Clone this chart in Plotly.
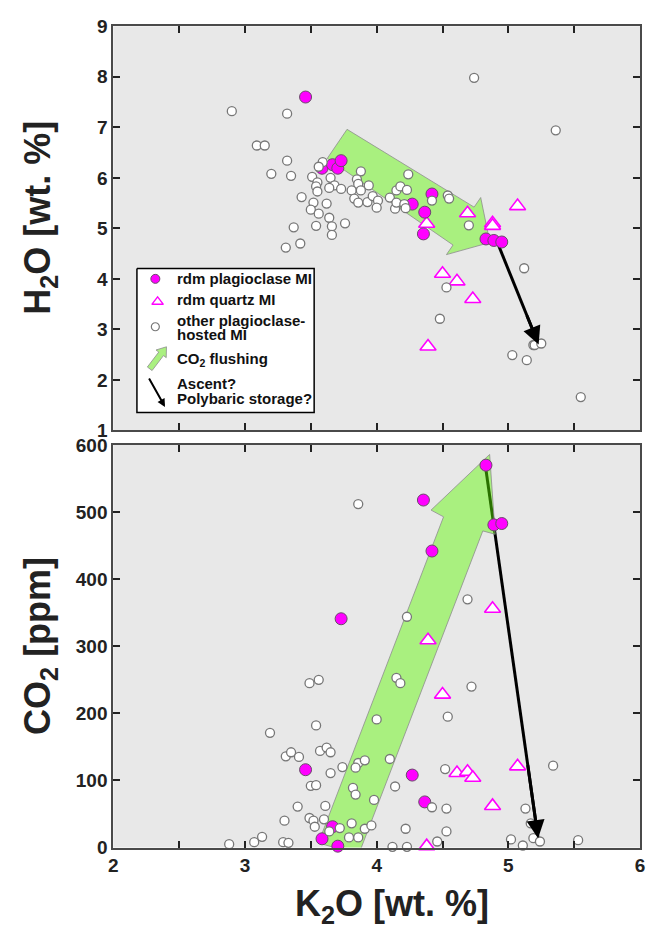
import numpy as np
import plotly.graph_objects as go

W, H = 647, 938
FONT = "Liberation Sans, Arial, Helvetica, sans-serif"

# ---------------- data ----------------
# rdm plagioclase-hosted melt inclusions
plag_k2o = [3.46, 3.585, 3.665, 3.705, 3.73, 4.27, 4.355, 4.365, 4.42, 4.83, 4.89, 4.95]
plag_h2o = [7.60, 6.19, 6.26, 6.19, 6.34, 5.48, 4.89, 5.32, 5.68, 4.79, 4.76, 4.73]
plag_co2 = [116, 13, 31, 2, 341, 108, 518, 68, 442, 570, 481, 483]

# rdm quartz-hosted melt inclusions
qtz_k2o = [4.38, 4.39, 4.50, 4.61, 4.69, 4.73, 4.88, 4.88, 5.07]
qtz_h2o = [5.09, 2.66, 4.10, 3.95, 5.30, 3.60, 5.10, 5.05, 5.44]
qtz_co2 = [2, 309, 228, 111, 113, 104, 356, 62, 121]

# other plagioclase-hosted melt inclusions (H2O data set)
oth_h2o_k2o = [2.90, 3.32, 4.74, 5.36, 3.09, 3.15, 3.32, 3.20, 3.35, 3.59, 3.56, 3.51,
               3.55, 3.54, 3.55, 3.65, 3.68, 3.64, 3.73, 3.43, 3.52, 3.50, 3.62, 3.56,
               3.64, 3.54, 3.37, 3.66, 3.76, 3.66, 3.31, 3.42, 3.88, 3.85, 3.86, 3.94,
               3.81, 3.88, 3.83, 3.86, 3.93, 3.97, 4.01, 4.00, 4.10, 4.14, 4.15, 4.15,
               4.18, 4.23, 4.24, 4.21, 4.22, 4.42, 4.54, 4.55, 4.70, 5.12, 4.53, 4.48,
               5.03, 5.14, 5.19, 5.20, 5.25, 5.55]
oth_h2o = [7.32, 7.27, 7.98, 6.94, 6.64, 6.64, 6.34, 6.08, 6.04, 6.31, 6.22, 6.02,
           5.91, 5.83, 5.73, 6.00, 5.85, 5.80, 5.78, 5.62, 5.51, 5.37, 5.49, 5.29,
           5.21, 5.05, 5.02, 5.04, 5.10, 4.87, 4.62, 4.70, 6.13, 5.97, 5.88, 5.85,
           5.75, 5.75, 5.59, 5.51, 5.52, 5.64, 5.55, 5.41, 5.61, 5.39, 5.51, 5.75,
           5.83, 5.76, 6.07, 5.48, 5.40, 5.55, 5.65, 5.59, 5.06, 4.21, 3.83, 3.21,
           2.49, 2.39, 2.69, 2.69, 2.72, 1.66]

# other plagioclase-hosted melt inclusions (CO2 data set)
oth_co2_k2o = [3.86, 3.49, 3.56, 4.00, 3.54, 3.19, 3.31, 3.35, 3.41, 3.57, 3.62, 3.65,
               3.74, 3.86, 3.91, 3.84, 3.65, 3.50, 3.54, 3.82, 3.84, 3.98, 3.40, 3.61,
               3.30, 3.49, 3.52, 3.53, 3.60, 3.72, 3.64, 3.81, 3.91, 3.96, 3.79, 3.86,
               3.13, 3.07, 2.88, 3.29, 3.33, 4.69, 4.23, 4.15, 4.18, 4.72, 4.54, 5.34,
               4.52, 4.10, 4.14, 4.42, 4.53, 5.13, 5.17, 4.22, 4.53, 4.46, 4.12, 4.23,
               5.02, 5.11, 5.19, 5.24, 5.53]
oth_co2 = [512, 245, 250, 191, 182, 171, 136, 142, 135, 144, 149, 142,
           120, 126, 130, 119, 111, 92, 93, 89, 79, 71, 61, 62,
           40, 44, 40, 31, 42, 29, 24, 36, 28, 33, 15, 15,
           16, 8, 5, 8, 7, 370, 344, 253, 245, 240, 195, 122,
           117, 132, 91, 60, 58, 58, 36, 28, 24, 9, 1, 1,
           12, 3, 14, 9, 11]

# CO2-flushing trend arrows (outline vertices in K2O / H2O and K2O / CO2 space)
flush_h2o_k2o = [3.775, 4.74, 4.79, 4.86, 4.53, 4.58, 3.625]
flush_h2o = [6.96, 5.42, 5.61, 4.72, 4.48, 4.67, 6.385]
flush_co2_k2o = [3.558, 4.508, 4.413, 4.858, 4.90, 4.806, 3.862]
flush_co2 = [7, 493, 503, 586, 467, 472, -11]

# ascent / polybaric storage trends (start, end)
ascent_h2o_k2o = [4.92, 5.23]
ascent_h2o = [4.70, 2.70]
ascent_co2_k2o = [4.825, 5.226]
ascent_co2 = [570, 14]

k2o_ticks = [2, 3, 4, 5, 6]
h2o_ticks = [1, 2, 3, 4, 5, 6, 7, 8, 9]
co2_ticks = [0, 100, 200, 300, 400, 500, 600]

# ---------------- layout geometry (pixels) ----------------
PX_L, PX_R = 110, 645
TOP_T, TOP_B = 16.7, 430
BOT_T, BOT_B = 445, 856.7


def py(v):
    return 1 - v / H


GREEN_FILL = "rgba(94,250,0,0.45)"
GREEN_EDGE = "#8d8d8d"
MAGENTA = "#ff00ff"
AX_COL = "#4a4a4a"

fig = go.Figure()


def panel(xa, ya, yk, yv, fk, fv, ak, av):
    # ascent line (under the translucent flushing arrow)
    fig.add_trace(go.Scatter(x=ak, y=av, mode="lines", xaxis=xa, yaxis=ya,
                             line=dict(color="black", width=3), hoverinfo="skip"))
    # CO2 flushing arrow
    fig.add_trace(go.Scatter(x=list(fk) + fk[:1], y=list(fv) + fv[:1], mode="lines",
                             fill="toself", fillcolor=GREEN_FILL, xaxis=xa, yaxis=ya,
                             line=dict(color=GREEN_EDGE, width=0.8), hoverinfo="skip"))
    # quartz MI
    fig.add_trace(go.Scatter(x=qtz_k2o, y=yk["qtz"], mode="markers", xaxis=xa, yaxis=ya,
                             cliponaxis=False,
                             marker=dict(symbol="triangle-up", size=14, color="white",
                                         line=dict(color=MAGENTA, width=1.6))))
    # plagioclase MI
    fig.add_trace(go.Scatter(x=plag_k2o, y=yk["plag"], mode="markers", xaxis=xa, yaxis=ya,
                             cliponaxis=False,
                             marker=dict(symbol="circle", size=12, color=MAGENTA,
                                         line=dict(color="#6a4a6a", width=1))))
    # other plagioclase-hosted MI
    fig.add_trace(go.Scatter(x=yv[0], y=yv[1], mode="markers", xaxis=xa, yaxis=ya,
                             cliponaxis=False,
                             marker=dict(symbol="circle", size=9, color="white",
                                         line=dict(color="#777777", width=1.3))))


panel("x", "y", {"qtz": qtz_h2o, "plag": plag_h2o}, (oth_h2o_k2o, oth_h2o),
      flush_h2o_k2o, flush_h2o, ascent_h2o_k2o, ascent_h2o)
panel("x2", "y2", {"qtz": qtz_co2, "plag": plag_co2}, (oth_co2_k2o, oth_co2),
      flush_co2_k2o, flush_co2, ascent_co2_k2o, ascent_co2)

annotations = []


def arrow_head(xref, yref, xs, ys, frac=0.3, size=1.2, width=3):
    x0, x1 = xs
    y0, y1 = ys
    annotations.append(dict(
        x=x1, y=y1, ax=x1 - frac * (x1 - x0), ay=y1 - frac * (y1 - y0),
        xref=xref, yref=yref, axref=xref, ayref=yref, text="", showarrow=True,
        arrowhead=2, arrowsize=size, arrowwidth=width, arrowcolor="black"))


arrow_head("x", "y", ascent_h2o_k2o, ascent_h2o)
arrow_head("x2", "y2", ascent_co2_k2o, ascent_co2, frac=0.2)

# ---------------- legend (drawn on a pixel-unit overlay of the top panel) ----------------
box_x = [134, 314, 314, 134, 134]
box_y = [264.3, 264.3, 411.7, 411.7, 264.3]
fig.add_trace(go.Scatter(x=box_x, y=box_y, mode="lines", fill="toself", fillcolor="white",
                         line=dict(color="black", width=1.5), xaxis="x3", yaxis="y3",
                         hoverinfo="skip"))
fig.add_trace(go.Scatter(x=[152.7], y=[275], mode="markers", xaxis="x3", yaxis="y3",
                         marker=dict(symbol="circle", size=9, color=MAGENTA,
                                     line=dict(color="#6a4a6a", width=1))))
fig.add_trace(go.Scatter(x=[155], y=[298.5], mode="markers", xaxis="x3", yaxis="y3",
                         marker=dict(symbol="triangle-up", size=10, color="white",
                                     line=dict(color=MAGENTA, width=1.4))))
fig.add_trace(go.Scatter(x=[152.7], y=[324], mode="markers", xaxis="x3", yaxis="y3",
                         marker=dict(symbol="circle", size=8, color="white",
                                     line=dict(color="#777777", width=1.2))))

# small block-arrow glyph for the flushing trend
tail = np.array([147.0, 367.0])
tip = np.array([164.0, 344.5])
d = tip - tail
L = np.hypot(*d)
u = d / L
n = np.array([-u[1], u[0]])
local = [(0, -3), (L - 9, -3), (L - 9, -6.5), (L, 0), (L - 9, 6.5), (L - 9, 3), (0, 3), (0, -3)]
pts = np.array([tail + a * u + b * n for a, b in local])
fig.add_trace(go.Scatter(x=pts[:, 0], y=pts[:, 1], mode="lines", fill="toself",
                         fillcolor="#aaf080", line=dict(color=GREEN_EDGE, width=0.8),
                         xaxis="x3", yaxis="y3", hoverinfo="skip"))
annotations.append(dict(x=162.5, y=406, ax=145.5, ay=375.5, xref="x3", yref="y3",
                        axref="x3", ayref="y3", text="", showarrow=True, arrowhead=2,
                        arrowsize=0.8, arrowwidth=2, arrowcolor="black"))

legend_rows = [
    ("rdm plagioclase MI", 274.5),
    ("rdm quartz MI", 296.5),
    ("other plagioclase-", 318),
    ("hosted MI", 331.5),
    ("CO<sub>2</sub> flushing", 358),
    ("Ascent?", 382),
    ("Polybaric storage?", 397),
]
for txt, yy in legend_rows:
    annotations.append(dict(x=173, y=yy, xref="x3", yref="y3", text=txt, showarrow=False,
                            xanchor="left", yanchor="middle",
                            font=dict(family=FONT, size=15, color="#111", weight="bold")))

# ---------------- axis titles ----------------
title_font = dict(family=FONT, size=36, color="#222", weight="bold")
annotations.append(dict(x=36 / W, y=py(212), xref="paper", yref="paper", textangle=-90,
                        text="H<sub>2</sub>O [wt. %]", showarrow=False,
                        xanchor="center", yanchor="middle", font=title_font))
annotations.append(dict(x=36 / W, y=py(650), xref="paper", yref="paper", textangle=-90,
                        text="CO<sub>2</sub> [ppm]", showarrow=False,
                        xanchor="center", yanchor="middle", font=title_font))
annotations.append(dict(x=393 / W, y=py(917), xref="paper", yref="paper",
                        text="K<sub>2</sub>O [wt. %]", showarrow=False,
                        xanchor="center", yanchor="middle", font=title_font))

tick_font = dict(family=FONT, size=19, color="#222", weight="bold")
common_axis = dict(showline=True, linecolor=AX_COL, linewidth=2, mirror="ticks",
                   ticks="inside", ticklen=7, tickwidth=2, tickcolor="#222",
                   showgrid=False, zeroline=False, tickfont=tick_font,
                   ticklabeloverflow="allow")
x_common = dict(common_axis, range=[2, 6], tickvals=k2o_ticks,
                minor=dict(dtick=0.5, ticks="inside", ticklen=7, tickwidth=2,
                           tickcolor="#222", showgrid=False),
                domain=[PX_L / W, PX_R / W])

fig.update_layout(
    width=W, height=H, autosize=False,
    margin=dict(l=0, r=0, t=0, b=0),
    paper_bgcolor="white", plot_bgcolor="#e8e8e8",
    showlegend=False,
    font=dict(family=FONT, color="#222"),
    xaxis=dict(x_common, anchor="y", showticklabels=False),
    yaxis=dict(common_axis, range=[1, 9], tickvals=h2o_ticks, anchor="x",
               domain=[py(TOP_B), py(TOP_T)]),
    xaxis2=dict(x_common, anchor="y2"),
    yaxis2=dict(common_axis, range=[0, 600], tickvals=co2_ticks, anchor="x2",
                domain=[py(BOT_B), py(BOT_T)]),
    xaxis3=dict(overlaying="x", anchor="y3", range=[PX_L, PX_R], visible=False),
    yaxis3=dict(overlaying="y", anchor="x3", range=[TOP_B, TOP_T], visible=False),
    annotations=annotations,
)

fig.write_html("out.html", config={"displayModeBar": False})
